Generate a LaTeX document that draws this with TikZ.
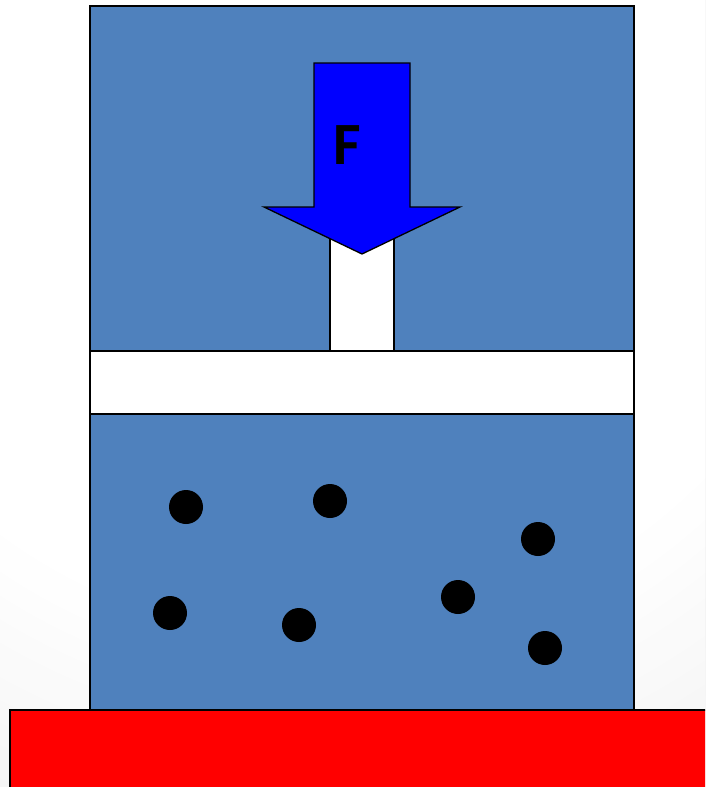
\documentclass[tikz,border=0pt]{standalone}
\usepackage{fontspec}
\newfontfamily\labelfont{Carlito}
\definecolor{chamber}{HTML}{4F81BD}
\definecolor{forceblue}{HTML}{0000FF}
\definecolor{heater}{HTML}{FF0000}
\definecolor{bgedge}{HTML}{D2D2D2}
\tikzset{
  outline/.style={draw=black, line width=1.6pt},
  gasbox/.style={outline, fill=chamber},
  whitepart/.style={outline, fill=white},
  molecule/.style={circle, fill=black, inner sep=0pt, minimum size=34pt},
}
\begin{document}
\begin{tikzpicture}[x=1pt, y=-1pt]
\useasboundingbox (0,0) rectangle (705,787);
\clip (0,0) rectangle (705,787);
% background: soft radial vignette
\fill[bgedge] (0,0) rectangle (705,787);
\foreach \i in {0,...,28}{
  \pgfmathsetmacro{\r}{820-10*\i}
  \pgfmathsetmacro{\c}{72+\i}
  \fill[white!\c!bgedge] (320,100) circle[radius=\r];
}
% cylinder
\draw[gasbox] (90,6) rectangle (634,710);
% piston plate
\draw[whitepart] (90,351) rectangle (634,414);
% piston rod
\draw[whitepart] (330,230) rectangle (394,351);
% force arrow
\draw[outline, fill=forceblue, line width=1.3pt, line join=miter]
  (314,63) -- (410,63) -- (410,207) -- (460,207) -- (362,254) -- (264,207) -- (314,207) -- cycle;
\node[font=\labelfont\bfseries\fontsize{60}{60}\selectfont, inner sep=0pt] (F) at (347,145) {F};
% molecules
\node[molecule] (m1) at (186,507) {};
\node[molecule] (m2) at (330,501) {};
\node[molecule] (m3) at (538,539) {};
\node[molecule] (m4) at (170,613) {};
\node[molecule] (m5) at (299,625) {};
\node[molecule] (m6) at (458,597) {};
\node[molecule] (m7) at (545,648) {};
% heater
\draw[outline, fill=heater] (10,710) rectangle (720,800);
\end{tikzpicture}
\end{document}
